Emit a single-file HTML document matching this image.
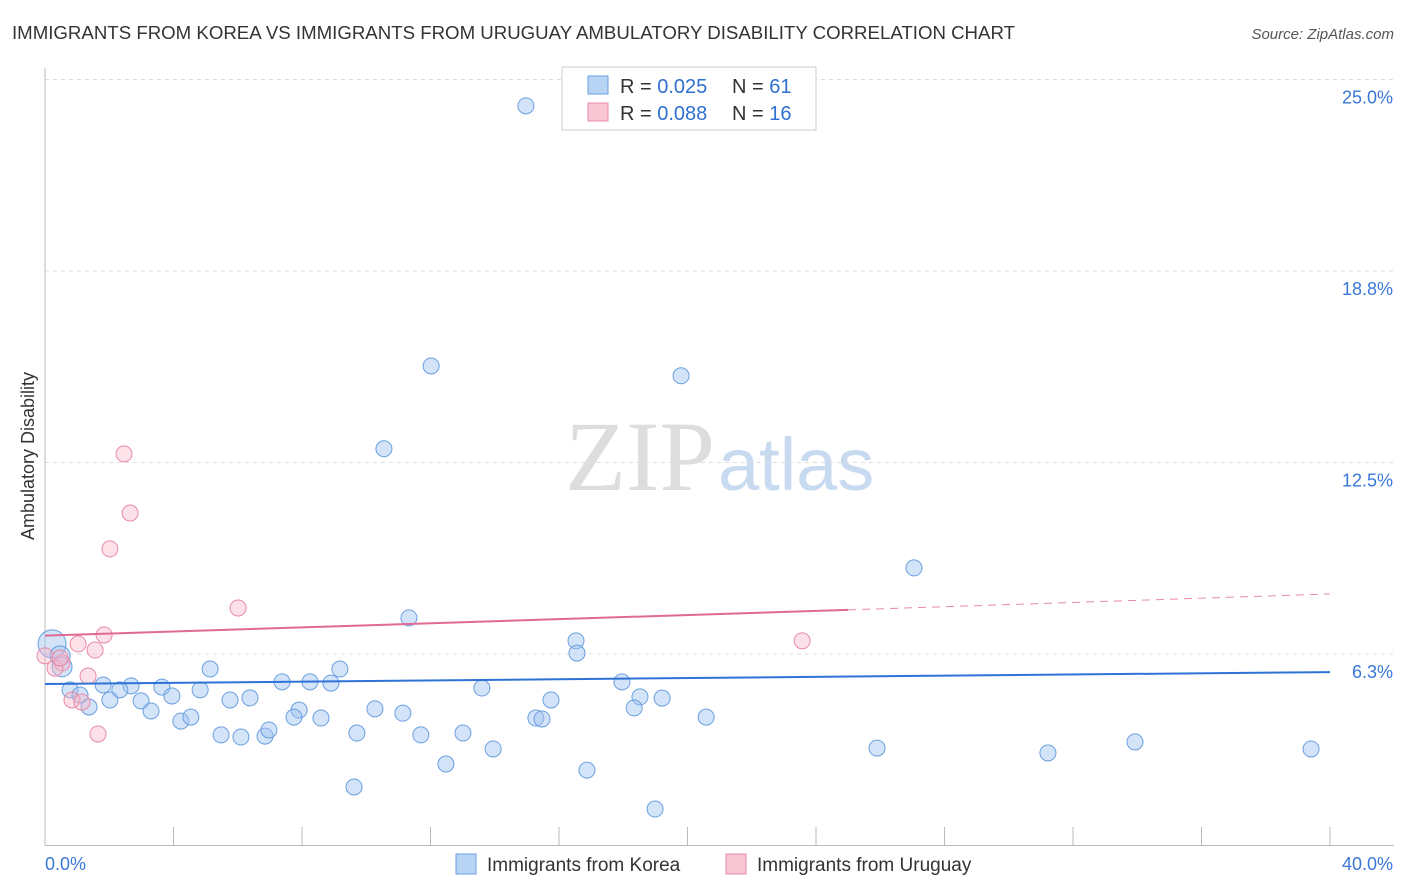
<!DOCTYPE html>
<html><head><meta charset="utf-8">
<style>
body{margin:0;background:#fff;font-family:"Liberation Sans",sans-serif;}
#wrap{position:relative;width:1406px;height:892px;overflow:hidden;}
</style></head>
<body>
<div id="wrap">
<svg id="svg" width="1406" height="892">
<text x="12" y="39" font-size="18" fill="#333" textLength="1003" lengthAdjust="spacingAndGlyphs">IMMIGRANTS FROM KOREA VS IMMIGRANTS FROM URUGUAY AMBULATORY DISABILITY CORRELATION CHART</text>
<text x="1394" y="39" font-size="15" fill="#555" text-anchor="end" font-style="italic">Source: ZipAtlas.com</text>
<text x="34" y="456" font-size="18" fill="#333" text-anchor="middle" transform="rotate(-90 34 456)">Ambulatory Disability</text>
<text x="715" y="490" font-size="100" fill="#ddd" text-anchor="end" font-family="Liberation Serif">ZIP</text>
<text x="718" y="490" font-size="74" fill="#c8daf0">atlas</text>
<g id="grid"></g><g id="marks"></g>
<g>
<rect x="562" y="67" width="254" height="63" fill="#fff" stroke="#ccc"/>
<rect x="588" y="76" width="20" height="18" fill="#b8d4f5" stroke="#6a9fe0"/>
<rect x="588" y="103" width="20" height="18" fill="#f9c6d6" stroke="#e88aa8"/>
<text x="620" y="93" font-size="20" fill="#333">R = <tspan fill="#2f6fd0">0.025</tspan><tspan x="732">N = </tspan><tspan fill="#2f6fd0">61</tspan></text>
<text x="620" y="120" font-size="20" fill="#333">R = <tspan fill="#2f6fd0">0.088</tspan><tspan x="732">N = </tspan><tspan fill="#2f6fd0">16</tspan></text>
</g>
<g>
<rect x="456" y="854" width="20" height="20" fill="#b8d4f5" stroke="#6a9fe0"/>
<text x="487" y="871" font-size="19" fill="#333">Immigrants from Korea</text>
<rect x="726" y="854" width="20" height="20" fill="#f9c6d6" stroke="#e88aa8"/>
<text x="757" y="871" font-size="19" fill="#333">Immigrants from Uruguay</text>
</g>
</svg>
</div>
<script>
const yTicks=[6.25,12.5,18.75,25];
const yTickLabels=["6.3%","12.5%","18.8%","25.0%"];
const koreaX=[14.97,12.02,19.80,10.55,27.05,11.33,16.53,16.56,0.22,0.47,0.53,1.81,2.68,3.64,5.14,9.18,7.38,8.25,8.90,17.96,13.60,0.78,1.09,2.33,2.02,2.99,3.95,4.83,5.76,6.38,15.75,18.52,19.21,1.37,3.30,7.91,10.27,11.14,18.34,4.23,4.54,7.75,8.59,15.28,15.47,20.58,5.48,6.10,6.85,6.97,9.71,11.70,13.01,13.95,12.48,16.87,9.62,18.99,25.90,31.22,33.93,39.41];
const koreaY=[24.14,15.65,15.33,12.95,9.06,7.43,6.68,6.28,6.58,6.19,5.83,5.24,5.21,5.17,5.76,5.76,5.34,5.34,5.30,5.34,5.14,5.08,4.91,5.08,4.75,4.72,4.88,5.08,4.75,4.82,4.75,4.85,4.81,4.52,4.39,4.42,4.46,4.32,4.49,4.06,4.19,4.19,4.16,4.16,4.13,4.19,3.61,3.54,3.57,3.77,3.67,3.61,3.67,3.15,2.66,2.46,1.91,1.19,3.18,3.02,3.38,3.15];
const uruX=[2.46,2.65,2.02,6.01,1.84,1.03,1.56,0,0.53,0.31,1.34,0.84,1.15,1.65,23.57,0.47];
const uruY=[12.78,10.85,9.68,7.75,6.87,6.58,6.38,6.19,5.96,5.79,5.53,4.75,4.68,3.64,6.68,6.12];
const koreaTrend=[5.27,5.66];
const uruTrend=[6.85,7.69,8.21];
const NS="http://www.w3.org/2000/svg";
const X=v=>45+v/40*1285, Y=v=>845.5-v/6.25*191.5;
function mk(t,a,p){const e=document.createElementNS(NS,t);for(const k in a)e.setAttribute(k,a[k]);p.appendChild(e);return e;}
const grid=document.getElementById('grid'),marks=document.getElementById('marks');
yTicks.forEach((t,i)=>{
 const l=mk('line',{x1:45,x2:1394,y1:Y(t),y2:Y(t),stroke:'#ddd','stroke-dasharray':'4,4'},grid);
 
 
 const tx=mk('text',{x:1393,y:Y(t)+24,'font-size':18,fill:'#3a78d8','text-anchor':'end'},grid);
 tx.textContent=yTickLabels[i];
 
 
});
const ax=mk('line',{x1:45,x2:1394,y1:845.5,y2:845.5,stroke:'#bbb'},grid);


const ay=mk('line',{x1:45,x2:45,y1:68,y2:845.5,stroke:'#bbb'},grid);


for(let i=1;i<=10;i++){const t=mk('line',{x1:X(i*4),x2:X(i*4),y1:827,y2:845,stroke:'#bbb'},grid);
 
 }
[[0,"0.0%",'start',45],[40,"40.0%",'end',1393]].forEach(d=>{const t=mk('text',{x:d[3],y:870,'font-size':18,fill:'#3a78d8','text-anchor':d[2]},grid);t.textContent=d[1];
 
 });
koreaX.forEach((x,i)=>{const r=i==8?14:(i==9||i==10)?10:8;
 const c=mk('circle',{cx:X(x),cy:Y(koreaY[i]),r:r,fill:'rgba(160,195,240,0.45)',stroke:'#6a9fe0','stroke-width':1},marks);
 
 });
uruX.forEach((x,i)=>{const c=mk('circle',{cx:X(x),cy:Y(uruY[i]),r:8,fill:'rgba(248,180,200,0.4)',stroke:'#e88aa8','stroke-width':1},marks);
 
 });
const kl=mk('line',{x1:X(0),y1:Y(koreaTrend[0]),x2:X(40),y2:Y(koreaTrend[1]),stroke:'#2f72d6','stroke-width':2},marks);


const ul=mk('line',{x1:X(0),y1:Y(uruTrend[0]),x2:X(25),y2:Y(uruTrend[1]),stroke:'#e06a94','stroke-width':2},marks);


const ud=mk('line',{x1:X(25),y1:Y(uruTrend[1]),x2:X(40),y2:Y(uruTrend[2]),stroke:'#e88aa8','stroke-width':1,'stroke-dasharray':'8,6'},marks);


</script>
</body></html>
